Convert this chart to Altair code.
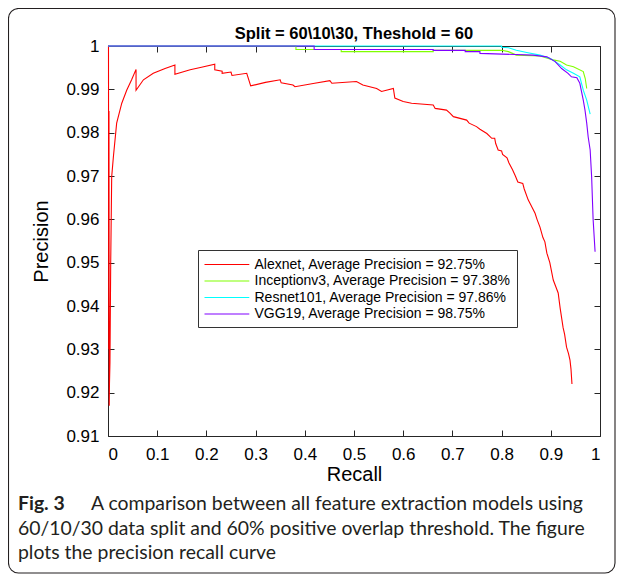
import altair as alt
import pandas as pd

# ---------------- data ----------------
models = ["Alexnet", "Inceptionv3", "Resnet101", "VGG19"]
avg_precision = ["92.75", "97.38", "97.86", "98.75"]
colors = ["#ff0000", "#80ff00", "#00ffff", "#8000ff"]

alex_recall = [0.0, 0.001, 0.0015, 0.002, 0.0025, 0.003, 0.004, 0.0055, 0.0075, 0.011,
               0.0176, 0.028, 0.038, 0.048, 0.057, 0.057, 0.072, 0.092, 0.116, 0.136,
               0.136, 0.167, 0.19, 0.217, 0.217, 0.232, 0.232, 0.25, 0.252, 0.282,
               0.29, 0.32, 0.35, 0.352, 0.376, 0.38, 0.42, 0.451, 0.455, 0.505,
               0.518, 0.546, 0.556, 0.58, 0.583, 0.6, 0.617, 0.661, 0.665, 0.688,
               0.695, 0.702, 0.729, 0.734, 0.749, 0.756, 0.77, 0.78, 0.786, 0.788,
               0.793, 0.80, 0.802, 0.811, 0.815, 0.822, 0.828, 0.833, 0.843, 0.846,
               0.854, 0.86, 0.868, 0.872, 0.878, 0.884, 0.888, 0.892, 0.898, 0.905,
               0.91, 0.915, 0.919, 0.925, 0.928, 0.932, 0.936, 0.939, 0.941, 0.943]
alex_precision = [1.0, 1.0, 0.93, 0.985, 0.917, 0.922, 0.927, 0.95, 0.9698, 0.9745,
                  0.9822, 0.9868, 0.9898, 0.9922, 0.9946, 0.9898, 0.9922, 0.9937, 0.9948, 0.9956,
                  0.9935, 0.9945, 0.9951, 0.9958, 0.9945, 0.9942, 0.9937, 0.994, 0.9932, 0.9937,
                  0.9908, 0.9916, 0.9922, 0.9915, 0.991, 0.9906, 0.9914, 0.992, 0.9914, 0.9918,
                  0.991, 0.9902, 0.9895, 0.9902, 0.988, 0.9872, 0.9868, 0.9864, 0.9856, 0.9852,
                  0.9845, 0.9837, 0.9829, 0.9822, 0.9814, 0.9808, 0.9798, 0.9787, 0.9787, 0.9775,
                  0.976, 0.9758, 0.975, 0.9742, 0.973, 0.9715, 0.970, 0.9686, 0.9683, 0.967,
                  0.9645, 0.9632, 0.9614, 0.960, 0.9582, 0.9558, 0.9548, 0.9522, 0.950, 0.946,
                  0.9445, 0.943, 0.9395, 0.935, 0.9335, 0.9305, 0.929, 0.9275, 0.9255, 0.922]

incep_recall = [0.0, 0.382, 0.382, 0.474, 0.474, 0.661, 0.661, 0.80, 0.814, 0.83,
                0.878, 0.905, 0.919, 0.932, 0.946, 0.966, 0.97, 0.973]
incep_precision = [1.0, 1.0, 0.9992, 0.9992, 0.9987, 0.9987, 0.999, 0.999, 0.9987, 0.9979,
                   0.9977, 0.9968, 0.9965, 0.9956, 0.9952, 0.9941, 0.9925, 0.9902]

resnet_recall = [0.0, 0.80, 0.80, 0.814, 0.83, 0.851, 0.878, 0.898, 0.919, 0.932,
                 0.946, 0.959, 0.966, 0.973, 0.98]
resnet_precision = [1.0, 1.0, 0.9997, 0.9996, 0.999, 0.9985, 0.9979, 0.9972, 0.9956, 0.9945,
                    0.9937, 0.9929, 0.9898, 0.9875, 0.9843]

vgg_recall = [0.0, 0.419, 0.419, 0.661, 0.661, 0.726, 0.726, 0.756, 0.756, 0.864,
              0.892, 0.909, 0.922, 0.935, 0.942, 0.953, 0.959, 0.966, 0.9695, 0.973,
              0.976, 0.98, 0.983, 0.986, 0.99]
vgg_precision = [1.0, 1.0, 0.9992, 0.9992, 0.999, 0.999, 0.9987, 0.9987, 0.9983, 0.9979,
                 0.9975, 0.9964, 0.9948, 0.9937, 0.9929, 0.9927, 0.9914, 0.9875, 0.9852, 0.9822,
                 0.979, 0.976, 0.9698, 0.96, 0.9525]

x_ticks = [0, 0.1, 0.2, 0.3, 0.4, 0.5, 0.6, 0.7, 0.8, 0.9, 1]
y_ticks = [0.91, 0.92, 0.93, 0.94, 0.95, 0.96, 0.97, 0.98, 0.99, 1.0]

title_text = "Split = 60\\10\\30, Theshold = 60"
caption_label = "Fig. 3"
caption_lines = [
    "A comparison between all feature extraction models using",
    "60/10/30 data split and 60% positive overlap threshold. The figure",
    "plots the precision recall curve",
]

# ---------------- table ----------------
labels = [f"{m}, Average Precision = {a}%" for m, a in zip(models, avg_precision)]
series = [(alex_recall, alex_precision), (incep_recall, incep_precision),
          (resnet_recall, resnet_precision), (vgg_recall, vgg_precision)]
rows = []
for lab, (rs, ps) in zip(labels, series):
    for i, (r, p) in enumerate(zip(rs, ps)):
        rows.append({"series": lab, "recall": r, "precision": p, "i": i})
df = pd.DataFrame(rows)

W, H = 492, 390
FONT = "Liberation Sans"
xs = alt.Scale(domain=[0, 1], nice=False, zero=False)
ys = alt.Scale(domain=[0.91, 1.0], nice=False, zero=False)
fmt = "format(datum.value, '~g')"

lines = alt.Chart(df).mark_line(strokeWidth=1.1).encode(
    x=alt.X("recall:Q", scale=xs,
            axis=alt.Axis(orient="bottom", values=x_ticks, labelExpr=fmt, title="Recall",
                          offset=-6, tickSize=6, domain=False, grid=False,
                          labelPadding=10, titlePadding=2)),
    y=alt.Y("precision:Q", scale=ys,
            axis=alt.Axis(orient="left", values=y_ticks, labelExpr=fmt, title="Precision",
                          offset=-6, tickSize=6, domain=False, grid=False,
                          labelPadding=9, titlePadding=14)),
    color=alt.Color("series:N", scale=alt.Scale(domain=labels, range=colors),
                    legend=alt.Legend(title=None, orient="none", legendX=90, legendY=204,
                                      direction="vertical", fillColor="white",
                                      strokeColor="#333333", padding=5.5, rowPadding=0.5,
                                      labelFont=FONT, labelFontSize=14, labelColor="black",
                                      labelLimit=500, symbolType="M-1,0L4.6,0",
                                      symbolSize=256, symbolStrokeWidth=1.2,
                                      labelOffset=33, symbolOffset=0)),
    order=alt.Order("i:Q"),
)

mirror = alt.Chart(df).mark_line(opacity=0).encode(
    x=alt.X("recall:Q", scale=xs,
            axis=alt.Axis(orient="top", values=x_ticks, labels=False, title=None,
                          offset=-6, tickSize=6, domain=False, grid=False)),
    y=alt.Y("precision:Q", scale=ys,
            axis=alt.Axis(orient="right", values=y_ticks, labels=False, title=None,
                          offset=-6, tickSize=6, domain=False, grid=False)),
    detail="series:N",
)

title_layer = alt.Chart(pd.DataFrame({"t": [title_text]})).mark_text(
    font=FONT, fontSize=16.5, fontWeight="bold", align="center", baseline="alphabetic",
    color="black").encode(x=alt.value(W / 2), y=alt.value(-7), text="t:N")

CAP_FONT = "Lato"
CAP_SIZE = 19.4
cap_bold = alt.Chart(pd.DataFrame({"t": [caption_label]})).mark_text(
    font=CAP_FONT, fontSize=CAP_SIZE, fontWeight="bold", align="left", baseline="alphabetic",
    color="#231f20").encode(x=alt.value(-90), y=alt.value(464), text="t:N")

cap_layers = []
for k, (xv, yv) in enumerate([(-17, 464), (-90, 489), (-90, 513)]):
    cap_layers.append(alt.Chart(pd.DataFrame({"t": [caption_lines[k]]})).mark_text(
        font=CAP_FONT, fontSize=CAP_SIZE, align="left", baseline="alphabetic",
        color="#231f20").encode(x=alt.value(xv), y=alt.value(yv), text="t:N"))

frame = alt.Chart(pd.DataFrame({"f": [0]})).mark_rect(
    fillOpacity=0, stroke="#231f20", strokeWidth=1.1, cornerRadius=10).encode(
    x=alt.value(-99.5), x2=alt.value(507), y=alt.value(-37.5), y2=alt.value(527))

chart = alt.layer(lines, mirror, title_layer, cap_bold, *cap_layers, frame).properties(
    width=W, height=H,
    autosize=alt.AutoSizeParams(type="none"),
    padding={"left": 100, "top": 38, "right": 16, "bottom": 138},
    background="white",
).configure_view(stroke="#262626", strokeWidth=1).configure_axis(
    labelFont=FONT, labelFontSize=17, labelColor="black", tickColor="#262626",
    tickWidth=1, titleFont=FONT, titleFontSize=20, titleFontWeight="normal",
    titleColor="black",
).configure_legend(labelFont=FONT)

chart.save("out.html", embed_options={"renderer": "svg", "actions": False})
